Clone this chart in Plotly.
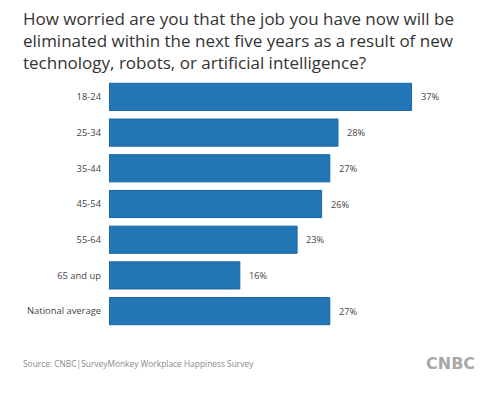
import plotly.graph_objects as go

categories = ["18-24", "25-34", "35-44", "45-54", "55-64", "65 and up", "National average"]
values = [37, 28, 27, 26, 23, 16, 27]
value_labels = ["37%", "28%", "27%", "26%", "23%", "16%", "27%"]

title_text = ("How worried are you that the job you have now will be<br>"
              "eliminated within the next five years as a result of new<br>"
              "technology, robots, or artificial intelligence?")
source_text = "Source: CNBC|SurveyMonkey Workplace Happiness Survey"

fig = go.Figure()
fig.add_trace(go.Bar(
    y=categories, x=values, orientation="h",
    marker=dict(color="#2276B6", line=dict(color="#1A64A0", width=1)),
    width=0.76, hoverinfo="skip",
))

for c, v, t in zip(categories, values, value_labels):
    fig.add_annotation(x=v, y=c, text=t, showarrow=False, xanchor="left",
                       xshift=7, font=dict(family="Open Sans", size=9.2, color="#444"))

fig.add_annotation(xref="paper", yref="paper", x=0, y=1, xshift=-88, yshift=74,
                   text=title_text, showarrow=False, xanchor="left", yanchor="top",
                   align="left",
                   font=dict(family="Open Sans", size=17, color="#333"))
fig.add_annotation(xref="paper", yref="paper", x=0, y=0, xshift=-88, yshift=-34,
                   text=source_text, showarrow=False, xanchor="left", yanchor="middle",
                   font=dict(family="Open Sans", size=8.4, color="#8a8a8a"))
fig.add_annotation(xref="paper", yref="paper", x=1, y=0, yshift=-34, xshift=0,
                   text="<b>CNBC</b>", showarrow=False, xanchor="right", yanchor="middle",
                   font=dict(family="DejaVu Sans", size=16, color="#a8a8a8"))

fig.update_layout(
    width=500, height=398,
    margin=dict(l=109, r=23, t=79, b=69, autoexpand=False),
    paper_bgcolor="white", plot_bgcolor="white",
    showlegend=False,
    hovermode=False,
    xaxis=dict(range=[0, 45], visible=False, fixedrange=True, automargin=False),
    yaxis=dict(autorange="reversed", showgrid=False, showline=False, zeroline=False,
               ticks="", ticklabelstandoff=7, automargin=False, fixedrange=True,
               tickfont=dict(family="Open Sans", size=9.4, color="#444")),
)
fig.write_html("out.html", config={"displayModeBar": False},
               post_script="document.body.style.margin='0px';")
